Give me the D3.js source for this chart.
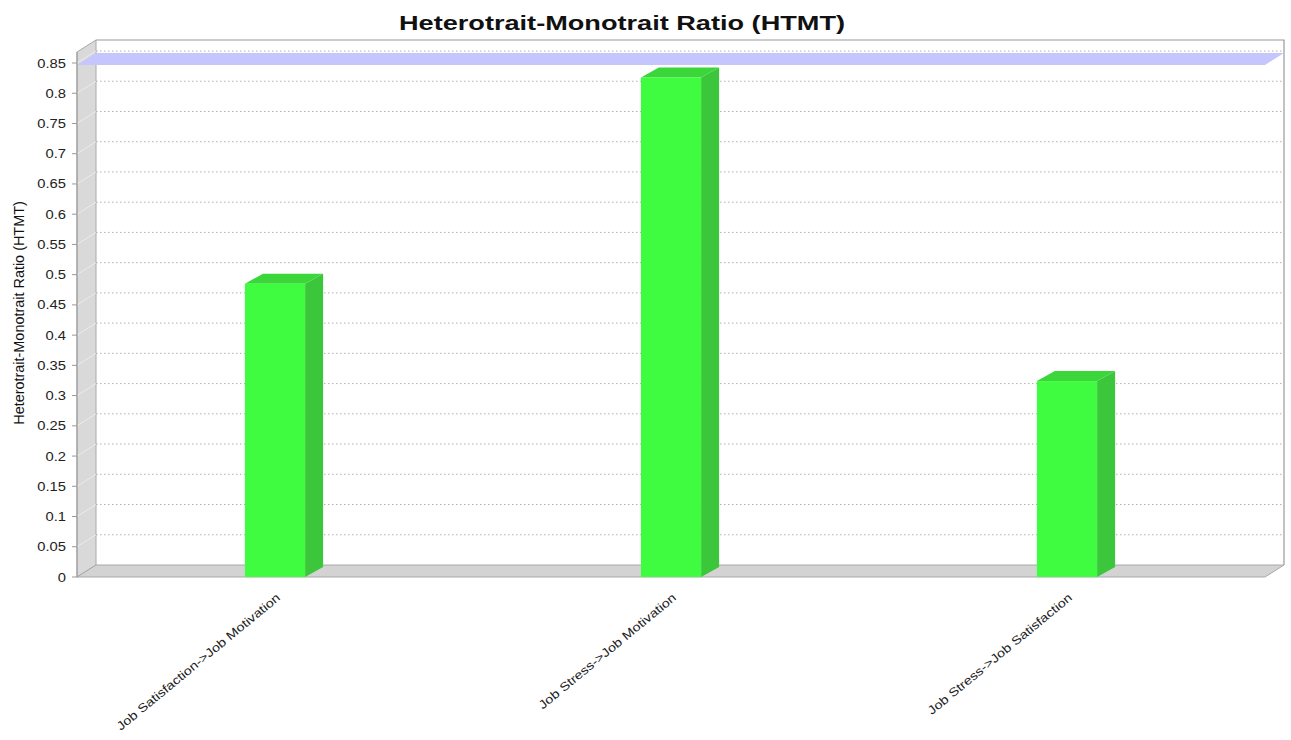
<!DOCTYPE html>
<html><head><meta charset="utf-8">
<script src="https://cdn.jsdelivr.net/npm/d3@7"></script>
<style>body{margin:0;background:#fff;} svg{display:block;font-family:"Liberation Sans",Arial,sans-serif;}</style>
</head><body><svg id="c" width="1291" height="740"></svg>
<script>
const categories = ["Job Satisfaction->Job Motivation","Job Stress->Job Motivation","Job Stress->Job Satisfaction"];
const values = [0.485, 0.826, 0.324];
const yTicks = [0,0.05,0.1,0.15,0.2,0.25,0.3,0.35,0.4,0.45,0.5,0.55,0.6,0.65,0.7,0.75,0.8,0.85];
const threshold = 0.85;
const title = "Heterotrait-Monotrait Ratio (HTMT)";
const yLabel = "Heterotrait-Monotrait Ratio (HTMT)";

const svg = d3.select("#c");
const L = 77, R = 1265, DX = 19, DY = -12, BDX = 18, BDY = -10;
const y = d3.scaleLinear().domain([0, 0.85]).range([577, 63]);
const x = d3.scaleBand().domain(categories).range([L, R]);
const yTop = y.invert(52);
const poly = pts => pts.map(p => p.join(",")).join(" ");

// stretch text horizontally like the reference renderer
function stretch(sel, factor) {
  sel.each(function() {
    const len = this.getComputedTextLength();
    d3.select(this).attr("textLength", len * factor).attr("lengthAdjust", "spacingAndGlyphs");
  });
}

// back wall
svg.append("polygon").attr("points", poly([[L+DX, y(yTop)+DY],[R+DX, y(yTop)+DY],[R+DX, y(0)+DY],[L+DX, y(0)+DY]]))
  .attr("fill","#fff");
svg.append("polyline").attr("points", poly([[L+DX, y(yTop)+DY],[R+DX, y(yTop)+DY],[R+DX, y(0)+DY]]))
  .attr("fill","none").attr("stroke","#999").attr("stroke-width",1.2);

// left wall
svg.append("polygon").attr("points", poly([[L, y(0)],[L, y(yTop)],[L+DX, y(yTop)+DY],[L+DX, y(0)+DY]]))
  .attr("fill","#d9d9d9").attr("stroke","#a8a8a8").attr("stroke-width",1);

// gridlines
svg.append("g").selectAll("line.g").data(yTicks.filter(t => t > 0)).join("line")
  .attr("x1", L+DX).attr("x2", R+DX).attr("y1", d => y(d)+DY).attr("y2", d => y(d)+DY)
  .attr("stroke","#b0b0b0").attr("stroke-dasharray","1.5,2.5").attr("stroke-width",1);
svg.append("g").selectAll("line.d").data(yTicks.filter(t => t > 0)).join("line")
  .attr("x1", L).attr("x2", L+DX).attr("y1", d => y(d)).attr("y2", d => y(d)+DY)
  .attr("stroke","#ececec").attr("stroke-width",1);

// floor
svg.append("polygon").attr("points", poly([[L, y(0)],[R, y(0)],[R+DX, y(0)+DY],[L+DX, y(0)+DY]]))
  .attr("fill","#d3d3d3").attr("stroke","#a8a8a8").attr("stroke-width",1);

// threshold band
svg.append("polygon").attr("points", poly([[L, y(threshold)+2],[R, y(threshold)+2],[R+DX, y(threshold)+DY+2],[L+DX, y(threshold)+DY+2]]))
  .attr("fill","#c6c6ff");

// bars
const bw = x.bandwidth()*0.152;
const bars = svg.append("g").selectAll("g").data(categories.map((c,i)=>({c, v: values[i]}))).join("g");
bars.append("polygon").attr("points", d => { const x0 = x(d.c)+x.bandwidth()/2 + bw/2; return poly([[x0, y(0)],[x0, y(d.v)],[x0+BDX, y(d.v)+BDY],[x0+BDX, y(0)+BDY]]); })
  .attr("fill","#3cc63c");
bars.append("polygon").attr("points", d => { const x0 = x(d.c)+x.bandwidth()/2 - bw/2; return poly([[x0, y(d.v)],[x0+bw, y(d.v)],[x0+bw+BDX, y(d.v)+BDY],[x0+BDX, y(d.v)+BDY]]); })
  .attr("fill","#3ad63a");
bars.append("rect").attr("x", d => x(d.c)+x.bandwidth()/2 - bw/2).attr("width", bw)
  .attr("y", d => y(d.v)).attr("height", d => y(0)-y(d.v)).attr("fill","#40fc40");

// y axis
const ya = svg.append("g");
ya.append("line").attr("x1",L).attr("x2",L).attr("y1",y(0)).attr("y2",y(yTop)).attr("stroke","#999");
ya.selectAll("line.t").data(yTicks).join("line").attr("x1",L-5).attr("x2",L).attr("y1",d=>y(d)).attr("y2",d=>y(d)).attr("stroke","#999");
ya.selectAll("text").data(yTicks).join("text").attr("x",L-11).attr("y",d=>y(d)).attr("dy","0.36em")
  .attr("text-anchor","end").attr("font-size",12.5).attr("fill","#222").text(d=>d3.format("~g")(d))
  .call(stretch, 1.18);

// x labels
svg.append("g").selectAll("text").data(categories).join("text")
  .attr("transform", d => `translate(${x(d)+x.bandwidth()/2+6},${y(0)+22}) rotate(-39.5)`)
  .attr("text-anchor","end").attr("font-size",12).attr("fill","#222").text(d=>d)
  .call(stretch, 1.2);

// titles
svg.append("text").attr("x",622).attr("y",30).attr("text-anchor","middle").attr("font-size",21).attr("font-weight","bold").attr("fill","#111").text(title)
  .attr("textLength",446).attr("lengthAdjust","spacingAndGlyphs");
svg.append("text").attr("transform","translate(24,313) rotate(-90)").attr("text-anchor","middle").attr("font-size",14).attr("fill","#111").text(yLabel)
  .call(stretch, 1.03);
</script></body></html>
